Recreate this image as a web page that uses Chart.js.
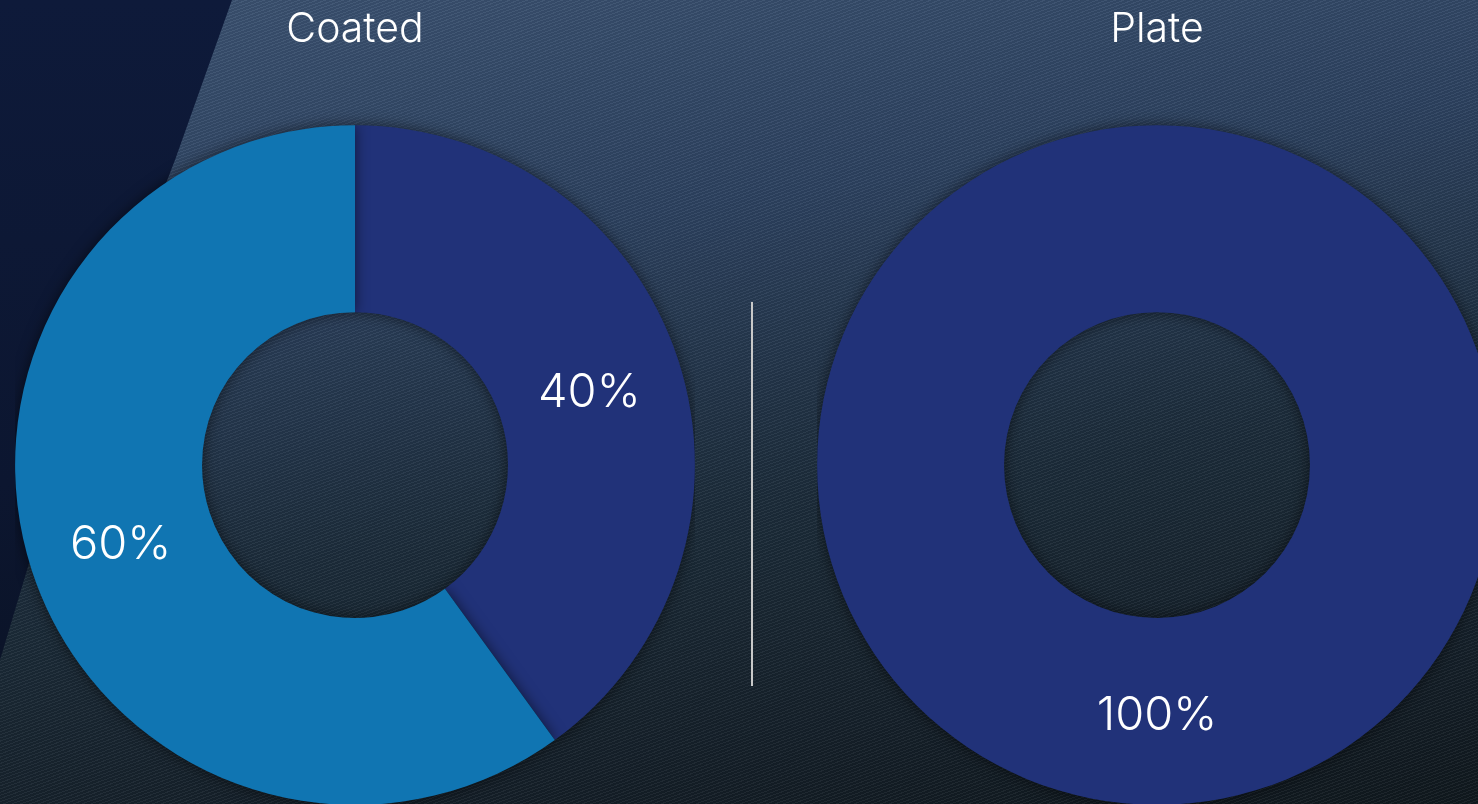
<!DOCTYPE html>
<html>
<head>
<meta charset="utf-8">
<script src="https://cdn.jsdelivr.net/npm/chart.js"></script>
<style>
  html, body {
    margin: 0;
    padding: 0;
    width: 1478px;
    height: 804px;
    overflow: hidden;
  }
  body {
    position: relative;
    background: linear-gradient(172deg, #3c5372 0%, #2d4260 30%, #1c2c3a 60%, #10181e 100%);
  }
  .texture {
    position: absolute;
    inset: 0;
    background: repeating-linear-gradient(160deg, rgba(255,255,255,0.05) 0px, rgba(255,255,255,0.05) 1px, rgba(0,0,0,0.06) 1px, rgba(0,0,0,0.06) 3px);
  }
  .dark-left {
    position: absolute;
    inset: 0;
    background: linear-gradient(180deg, #0e1a3a 0%, #0c1630 60%, #0a1222 100%);
    clip-path: polygon(0 0, 232px 0, 175px 160px, 90px 380px, 30px 560px, 0 660px);
  }
  .chart-box {
    position: absolute;
    top: 0;
    width: 680px;
    height: 805px;
  }
  #coatedBox { left: 15px; }
  #plateBox { left: 817px; }
  .divider {
    position: absolute;
    left: 751px;
    top: 302px;
    width: 2px;
    height: 384px;
    background: #c9c9c9;
  }
</style>
</head>
<body>
<div class="texture"></div>
<div class="dark-left"></div>
<div class="divider"></div>
<div class="chart-box" id="coatedBox"><canvas id="coatedChart"></canvas></div>
<div class="chart-box" id="plateBox"><canvas id="plateChart"></canvas></div>

<script>
  // Chart data
  const coatedLabels = ["Dark", "Light"];
  const coatedValues = [40, 60];
  const plateLabels = ["Dark"];
  const plateValues = [100];
  const sliceColors = ["#213279", "#1075b2"];

  const fontFamily = "Inter, 'Liberation Sans', Arial, sans-serif";

  // Soft shadow around the rings
  const ringShadow = {
    id: "ringShadow",
    beforeDatasetsDraw(chart) {
      const ctx = chart.ctx;
      ctx.save();
      ctx.shadowColor = "rgba(0, 0, 0, 0.55)";
      ctx.shadowBlur = 14;
    },
    afterDatasetsDraw(chart) {
      chart.ctx.restore();
    },
  };

  // Percentage labels at the middle of each slice
  const sliceLabels = {
    id: "sliceLabels",
    afterDatasetsDraw(chart) {
      const ctx = chart.ctx;
      const meta = chart.getDatasetMeta(0);
      const values = chart.data.datasets[0].data;
      const total = values.reduce((a, b) => a + b, 0);
      ctx.save();
      ctx.fillStyle = "#ffffff";
      ctx.font = "300 47px " + fontFamily;
      ctx.textAlign = "center";
      ctx.textBaseline = "middle";
      meta.data.forEach((arc, i) => {
        const pos = arc.tooltipPosition();
        const pct = Math.round((values[i] / total) * 100) + "%";
        ctx.fillText(pct, pos.x, pos.y + 4);
      });
      ctx.restore();
    },
  };

  function makeDonut(canvasId, title, labels, values) {
    const canvas = document.getElementById(canvasId);
    return new Chart(canvas, {
      type: "doughnut",
      data: {
        labels: labels,
        datasets: [
          {
            data: values,
            backgroundColor: sliceColors.slice(0, values.length),
            borderWidth: 0,
            hoverOffset: 0,
          },
        ],
      },
      options: {
        responsive: true,
        maintainAspectRatio: false,
        animation: false,
        cutout: "45%",
        layout: { padding: 0 },
        plugins: {
          legend: { display: false },
          tooltip: { enabled: false },
          title: {
            display: true,
            text: title,
            color: "#ffffff",
            font: { family: fontFamily, size: 41, weight: "300", lineHeight: 1.2 },
            padding: { top: 5, bottom: 71 },
          },
        },
      },
      plugins: [ringShadow, sliceLabels],
    });
  }

  makeDonut("coatedChart", "Coated", coatedLabels, coatedValues);
  makeDonut("plateChart", "Plate", plateLabels, plateValues);
</script>
</body>
</html>
